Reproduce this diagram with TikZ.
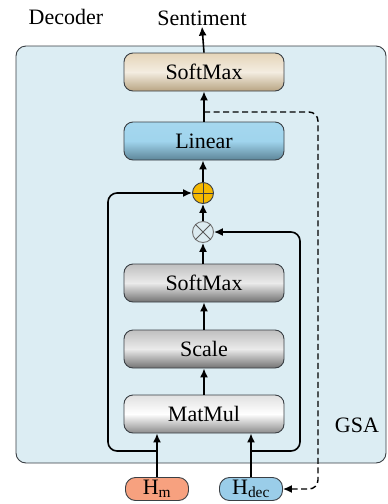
\documentclass[tikz,border=0pt]{standalone}
\usepackage{fontspec}
\setmainfont{Liberation Serif}
\usetikzlibrary{arrows.meta}

\definecolor{panelblue}{HTML}{DCEDF3}
\definecolor{edgegray}{HTML}{3A3F44}
\definecolor{plusorange}{HTML}{F5B800}
\definecolor{timesfill}{HTML}{DCEBF0}
\definecolor{hmfill}{HTML}{F7A17F}
\definecolor{hdecfill}{HTML}{9ACDE9}
\definecolor{BrownTan}{HTML}{D9C29A}
\definecolor{LinBlue}{HTML}{8FCDEA}

\tikzset{
  txt/.style={font=\fontsize{22}{26}\selectfont, inner sep=1pt},
  pill/.style={txt, draw=edgegray, line width=0.9pt, rounded corners=9pt,
    minimum width=160pt, minimum height=38pt},
  beigepill/.style={pill, top color=BrownTan!70, bottom color=BrownTan!85!black, middle color=BrownTan!30},
  bluepill/.style={pill, top color=LinBlue!80, bottom color=LinBlue!65!black, middle color=LinBlue!85},
  graypill/.style={pill, top color=black!25, bottom color=black!55, middle color=black!8},
  whitepill/.style={pill, top color=black!12, bottom color=black!45, middle color=white},
  inbox/.style={txt, draw=edgegray, line width=0.9pt, rounded corners=10pt,
    minimum width=63pt, minimum height=23pt, inner sep=0pt},
  arr/.style={line width=1.6pt, -{Latex[length=9pt,width=8pt]}},
}

\begin{document}
\begin{tikzpicture}[x=1pt, y=-1pt]
\useasboundingbox (0,0) rectangle (388,504);
% panel
\draw[fill=panelblue, draw=edgegray, line width=0.9pt, rounded corners=10pt] (16,46) rectangle (386,463);
\node[txt] (dec) at (66,17) {Decoder};
\node[txt] (sent) at (202,18) {Sentiment};
\node[txt] (gsa) at (357,425) {GSA};

% blocks
\node[beigepill] (sm2) at (204,72) {SoftMax};
\node[bluepill] (lin) at (204,141) {Linear};
\node[graypill] (sm1) at (204,283) {SoftMax};
\node[graypill] (scale) at (204,349) {Scale};
\node[whitepill] (mm) at (204,414) {MatMul};

% operators
\node[circle, draw=edgegray, fill=plusorange, minimum size=21pt, inner sep=0pt, line width=0.9pt] (plus) at (203,193) {};
\draw[edgegray, line width=0.9pt] (plus.north) -- (plus.south) (plus.west) -- (plus.east);
\node[circle, draw=black!55, fill=timesfill, minimum size=21pt, inner sep=0pt, line width=0.9pt] (times) at (203,232) {};
\draw[black!65, line width=0.9pt] (times.north west) -- (times.south east) (times.north east) -- (times.south west);

% inputs
\node[inbox, fill=hmfill] (hm) at (157,489) {H\textsubscript{m}};
\node[inbox, fill=hdecfill] (hdec) at (251,489) {H\textsubscript{dec}};

% main flow
\draw[arr] (sm2.north) -- (sent.south);
\draw[arr] (lin.north) -- (sm2.south);
\draw[arr] (plus.north) -- (lin.south -| plus.north);
\draw[arr] (times.north) -- (plus.south);
\draw[arr] (sm1.north -| times.south) -- (times.south);
\draw[arr] (scale.north) -- (sm1.south);
\draw[arr] (mm.north) -- (scale.south);
\draw[arr] (hm.north) -- (hm.north |- mm.south);
\draw[arr] (hdec.north) -- (hdec.north |- mm.south);

% residual and query branches
\coordinate (mfork) at (157,451);
\coordinate (dfork) at (251,451);
\draw[arr, rounded corners=9pt] (mfork) -- (108,451) -- (108,193) -- (plus.west);
\draw[arr, rounded corners=9pt] (dfork) -- (300,451) -- (300,232) -- (times.east);

% feedback to H_dec
\coordinate (tap) at (204,112);
\draw[arr, line width=1.4pt, dash pattern=on 6pt off 3.5pt, rounded corners=9pt] (tap) -- (318,112) -- (318,489) -- (hdec.east);
\end{tikzpicture}
\end{document}
